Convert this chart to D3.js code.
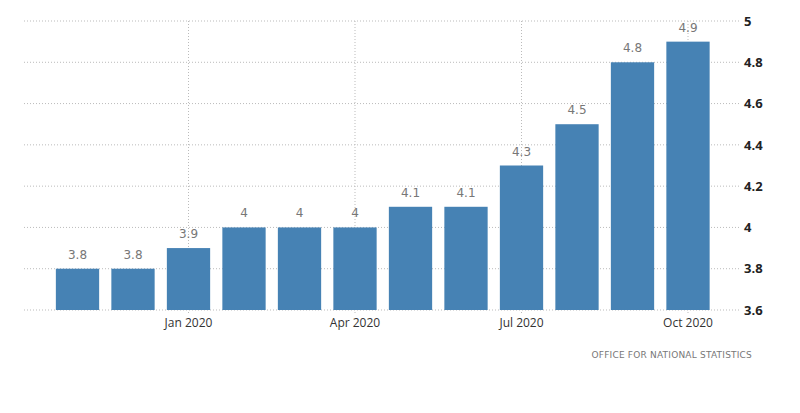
<!DOCTYPE html>
<html><head><meta charset="utf-8">
<script src="https://cdn.jsdelivr.net/npm/d3@7"></script>
<style>body{margin:0;background:#fff;}svg{display:block;font-family:"DejaVu Sans",sans-serif;}</style>
</head><body>
<svg id="c" width="800" height="413"></svg>
<script>
const months = ["Nov 2019","Dec 2019","Jan 2020","Feb 2020","Mar 2020","Apr 2020","May 2020","Jun 2020","Jul 2020","Aug 2020","Sep 2020","Oct 2020"];
const values = [3.8,3.8,3.9,4,4,4,4.1,4.1,4.3,4.5,4.8,4.9];
const yTicks = [3.6,3.8,4,4.2,4.4,4.6,4.8,5];
const xTickLabels = ["Jan 2020","Apr 2020","Jul 2020","Oct 2020"];
const source = "OFFICE FOR NATIONAL STATISTICS";

const svg = d3.select("#c");
const x = d3.scaleBand().domain(months).range([49.75,715.75]).paddingInner(0.22).paddingOuter(0.11);
const y = d3.scaleLinear().domain([3.6,5]).range([310,21]);
const gx0 = 24, gx1 = 741;

// horizontal grid
svg.append("g").selectAll("line").data(yTicks).join("line")
  .attr("x1",gx0).attr("x2",gx1).attr("y1",d=>y(d)).attr("y2",d=>y(d))
  .attr("stroke","#bbb").attr("stroke-width",1).attr("stroke-dasharray","1,2");
// vertical grid
svg.append("g").selectAll("line").data(xTickLabels).join("line")
  .attr("x1",d=>x(d)+x.bandwidth()/2).attr("x2",d=>x(d)+x.bandwidth()/2)
  .attr("y1",y(5)).attr("y2",y(3.6)+4)
  .attr("stroke","#bbb").attr("stroke-width",1).attr("stroke-dasharray","1,2");

// bars
svg.append("g").selectAll("rect").data(months).join("rect")
  .attr("x",d=>x(d)).attr("width",x.bandwidth())
  .attr("y",(d,i)=>y(values[i])).attr("height",(d,i)=>y(3.6)-y(values[i]))
  .attr("fill","#4682b4");

// value labels
svg.append("g").selectAll("text").data(months).join("text")
  .attr("x",d=>x(d)+x.bandwidth()/2).attr("y",(d,i)=>y(values[i])-10)
  .attr("text-anchor","middle").attr("font-size",12).attr("fill","#777")
  .text((d,i)=>values[i]);

// right y axis labels
const yAxis = d3.axisRight(y).tickValues(yTicks).tickSize(0).tickPadding(0).tickFormat(d3.format("~g"));
const ga = svg.append("g").attr("transform",`translate(744,0)`).call(yAxis);
ga.select(".domain").remove();
ga.selectAll("text").attr("font-size",13).attr("fill","#222").attr("font-weight","bold").attr("font-family","'Open Sans',sans-serif");

// x axis labels
const xAxis = d3.axisBottom(x).tickValues(xTickLabels).tickSize(0).tickPadding(0).tickFormat(d=>d);
const gb = svg.append("g").attr("transform",`translate(0,316)`).call(xAxis);
gb.select(".domain").remove();
gb.selectAll("text").attr("font-size",12).attr("fill","#333").attr("font-family","'Open Sans',sans-serif").attr("dy","0.9em");

// source
svg.append("text").attr("x",752).attr("y",358).attr("text-anchor","end")
  .attr("font-size",9).attr("fill","#777").attr("letter-spacing","0.2")
  .text(source);
</script>
</body></html>
